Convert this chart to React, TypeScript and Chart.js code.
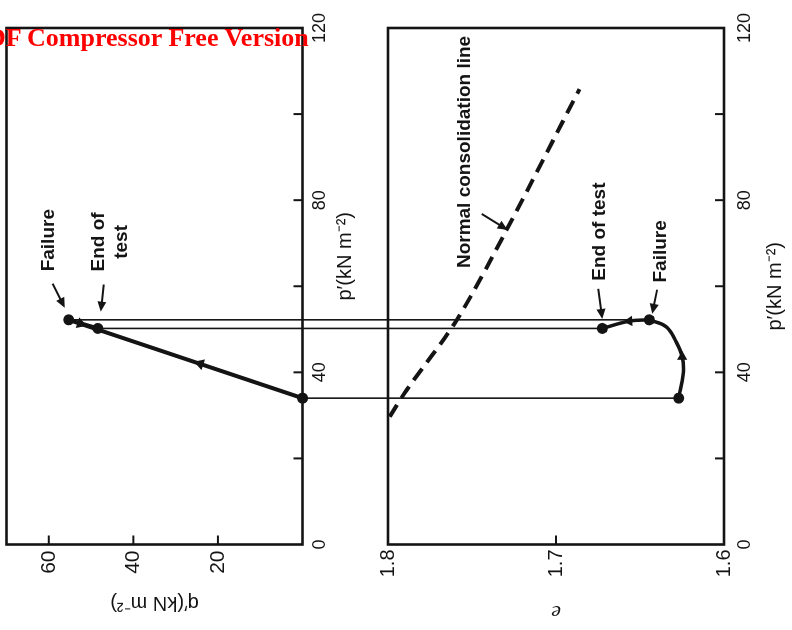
import React, { useEffect, useRef } from 'react';
import { Chart, registerables } from 'chart.js';

Chart.register(...registerables);

// ---------------- data ----------------
const stateNames = ['Start of shearing', 'Failure', 'End of test'];
const pPrime = [34, 52.2, 50.2]; // p' (kN m^-2)
const qPrime = [0, 55.3, 48.4]; // q' (kN m^-2)
const voidRatio = [1.627, 1.6445, 1.6724]; // e

// e - p' path from start of shearing to failure
const shearPathP = [34, 39.7, 43.6, 47.1, 50.6, 52.2];
const shearPathE = [1.627, 1.6243, 1.6249, 1.6285, 1.6344, 1.6445];
// e - p' path from failure to end of test
const postPeakP = [52.2, 51.9, 50.2];
const postPeakE = [1.6445, 1.6564, 1.6724];

// normal consolidation line
const nclP = [29.7, 36.0, 52.2, 73.1, 105.8];
const nclE = [1.799, 1.7887, 1.759, 1.7294, 1.686];

// axes
const pTicks = [0, 20, 40, 60, 80, 100, 120];
const pTickLabels = ['0', '', '40', '', '80', '', '120'];
const qTicks = [0, 20, 40, 60];
const qTickLabels = ['', '20', '40', '60'];
const eTicks = [1.6, 1.7, 1.8];
const eTickLabels = ['1.6', '1.7', '1.8'];

// direction arrows on the paths
const qArrowP = [42.0, 51.3];
const qArrowQ = [24.2, 52.5];
const qArrowAngle = [18.5, 198.5];
const eArrowP = [43.6, 51.9];
const eArrowE = [1.6249, 1.6564];
const eArrowAngle = [90, -4];

// annotations
const qNoteText = ['Failure', 'End of\ntest'];
const qNoteP = [70.7, 70.3];
const qNoteQ = [60.0, 45.35];
const qPointerFromP = [60.6, 60.4];
const qPointerFromQ = [59.1, 47.0];
const qPointerToP = [55.0, 54.1];
const qPointerToQ = [56.2, 47.7];

const eNoteText = ['End of test', 'Failure', 'Normal consolidation line'];
const eNoteP = [72.7, 68.1, 91.2];
const eNoteE = [1.6738, 1.6374, 1.7543];
const ePointerFromP = [59.4, 59.2, 76.8];
const ePointerFromE = [1.6748, 1.6398, 1.7442];
const ePointerToP = [52.4, 53.6, 73.1];
const ePointerToE = [1.6724, 1.6427, 1.7288];

// ---------------- styling ----------------
const INK = '#141414';
const SANS = '"Liberation Sans", Arial, sans-serif';
const SERIF = '"Liberation Serif", "Times New Roman", serif';

type Note = { text: string; x: number; y: number };
type Pointer = { x0: number; y0: number; x1: number; y1: number };

function makeOverlay(notes: Note[], pointers: Pointer[]) {
  return {
    id: 'overlay',
    beforeDatasetsDraw(chart: any) {
      const { ctx, chartArea: a, scales } = chart;
      ctx.save();
      ctx.strokeStyle = INK;
      ctx.lineWidth = 2.6;
      ctx.strokeRect(a.left, a.top, a.right - a.left, a.bottom - a.top);
      ctx.lineWidth = 2;
      const xs = scales.x;
      xs.ticks.forEach((t: any) => {
        if (t.value > xs.min && t.value < xs.max) {
          const px = xs.getPixelForValue(t.value);
          ctx.beginPath();
          ctx.moveTo(px, a.bottom);
          ctx.lineTo(px, a.bottom - 9);
          ctx.stroke();
        }
      });
      const ys = scales.y;
      ys.ticks.forEach((t: any) => {
        if (t.value > ys.min + 1e-9 && t.value < ys.max - 1e-9) {
          const py = ys.getPixelForValue(t.value);
          ctx.beginPath();
          ctx.moveTo(a.left, py);
          ctx.lineTo(a.left + 9, py);
          ctx.stroke();
        }
      });
      ctx.restore();
    },
    afterDatasetsDraw(chart: any) {
      const { ctx, scales } = chart;
      const xs = scales.x;
      const ys = scales.y;
      ctx.save();
      ctx.fillStyle = INK;
      ctx.strokeStyle = INK;
      ctx.font = `bold 19px ${SANS}`;
      ctx.textAlign = 'center';
      ctx.textBaseline = 'middle';
      notes.forEach((n) => {
        const lines = n.text.split('\n');
        const cx = xs.getPixelForValue(n.x);
        const cy = ys.getPixelForValue(n.y);
        const lh = 23;
        lines.forEach((ln, i) => {
          ctx.fillText(ln, cx, cy + (i - (lines.length - 1) / 2) * lh);
        });
      });
      ctx.lineWidth = 2;
      pointers.forEach((p) => {
        const x0 = xs.getPixelForValue(p.x0);
        const y0 = ys.getPixelForValue(p.y0);
        const x1 = xs.getPixelForValue(p.x1);
        const y1 = ys.getPixelForValue(p.y1);
        const ang = Math.atan2(y1 - y0, x1 - x0);
        const hl = 10;
        const hw = 4.5;
        ctx.beginPath();
        ctx.moveTo(x0, y0);
        ctx.lineTo(x1 - Math.cos(ang) * hl * 0.8, y1 - Math.sin(ang) * hl * 0.8);
        ctx.stroke();
        ctx.beginPath();
        ctx.moveTo(x1, y1);
        ctx.lineTo(
          x1 - Math.cos(ang) * hl - Math.sin(ang) * hw,
          y1 - Math.sin(ang) * hl + Math.cos(ang) * hw
        );
        ctx.lineTo(
          x1 - Math.cos(ang) * hl + Math.sin(ang) * hw,
          y1 - Math.sin(ang) * hl - Math.cos(ang) * hw
        );
        ctx.closePath();
        ctx.fill();
      });
      ctx.restore();
    },
  };
}

function pAxis(labelOffset: string, titlePadBottom: number, tickPad: number, height: number) {
  return {
    type: 'linear',
    position: 'bottom',
    min: 0,
    max: 120,
    grid: { display: false, drawTicks: false },
    border: { display: false },
    afterBuildTicks: (s: any) => {
      s.ticks = pTicks.map((v) => ({ value: v }));
    },
    afterFit: (s: any) => {
      s.height = height;
      s.paddingLeft = 0;
      s.paddingRight = 0;
    },
    ticks: {
      padding: tickPad,
      color: INK,
      font: { family: SANS, size: 18 },
      maxRotation: 0,
      autoSkip: false,
      callback: (_v: any, i: number) => pTickLabels[i],
    },
    title: {
      display: true,
      text: labelOffset + 'p\u2032(kN m\u207B\u00B2)',
      color: INK,
      font: { family: SANS, size: 20 },
      padding: { top: 0, bottom: titlePadBottom },
    },
  };
}

const P_LEFT = 85.5;
const P_RIGHT_PAD = 28;

export default function App() {
  const topRef = useRef<HTMLCanvasElement>(null);
  const botRef = useRef<HTMLCanvasElement>(null);

  useEffect(() => {
    const qNotes: Note[] = qNoteText.map((t, i) => ({ text: t, x: qNoteP[i], y: qNoteQ[i] }));
    const qPointers: Pointer[] = qPointerFromP.map((_, i) => ({
      x0: qPointerFromP[i], y0: qPointerFromQ[i], x1: qPointerToP[i], y1: qPointerToQ[i],
    }));
    const eNotes: Note[] = eNoteText.map((t, i) => ({ text: t, x: eNoteP[i], y: eNoteE[i] }));
    const ePointers: Pointer[] = ePointerFromP.map((_, i) => ({
      x0: ePointerFromP[i], y0: ePointerFromE[i], x1: ePointerToP[i], y1: ePointerToE[i],
    }));

    const lineBase = { showLine: true, pointRadius: 0, pointHitRadius: 0, borderColor: INK };

    const top = new Chart(topRef.current as HTMLCanvasElement, {
      type: 'scatter',
      data: {
        datasets: [
          ...pPrime.map((p, i) => ({
            ...lineBase,
            label: 'Projection: ' + stateNames[i],
            data: [{ x: p, y: qPrime[i] }, { x: p, y: -40 }],
            borderWidth: 1.6,
            clip: false,
          })),
          {
            ...lineBase,
            label: 'Stress path',
            data: pPrime.map((p, i) => ({ x: p, y: qPrime[i] })),
            borderWidth: 4,
            borderCapStyle: 'round',
            borderJoinStyle: 'round',
            clip: false,
          },
          {
            label: 'States',
            data: pPrime.map((p, i) => ({ x: p, y: qPrime[i] })),
            showLine: false,
            pointRadius: 5.5,
            backgroundColor: INK,
            borderWidth: 0,
            clip: false,
          },
          {
            label: 'Direction',
            data: qArrowP.map((p, i) => ({ x: p, y: qArrowQ[i] })),
            showLine: false,
            pointStyle: 'triangle',
            pointRadius: 6.5,
            pointRotation: (c: any) => qArrowAngle[c.dataIndex],
            backgroundColor: INK,
            borderWidth: 0,
          },
        ],
      } as any,
      options: {
        responsive: false,
        animation: false,
        events: [],
        layout: { padding: { left: 0, right: P_RIGHT_PAD, top: 5.5, bottom: 0 } },
        plugins: { legend: { display: false }, tooltip: { enabled: false } },
        scales: {
          x: pAxis('\u2003\u2003\u2003', 3, 7, 57.5) as any,
          y: {
            type: 'linear',
            min: 0,
            max: 70,
            grid: { display: false, drawTicks: false },
            border: { display: false },
            afterBuildTicks: (s: any) => {
              s.ticks = qTicks.map((v) => ({ value: v }));
            },
            afterFit: (s: any) => {
              s.width = P_LEFT;
              s.paddingTop = 0;
              s.paddingBottom = 0;
            },
            ticks: {
              padding: 6,
              color: INK,
              font: { family: SANS, size: 21 },
              callback: (_v: any, i: number) => qTickLabels[i],
            },
            title: {
              display: true,
              text: 'q\u2032(kN m\u207B\u00B2)',
              color: INK,
              font: { family: SANS, size: 20 },
              padding: { top: 15, bottom: 0 },
            },
          } as any,
        },
      },
      plugins: [makeOverlay(qNotes, qPointers)],
    });

    const bot = new Chart(botRef.current as HTMLCanvasElement, {
      type: 'scatter',
      data: {
        datasets: [
          {
            ...lineBase,
            label: 'Normal consolidation line',
            data: nclP.map((p, i) => ({ x: p, y: nclE[i] })),
            borderWidth: 4,
            borderDash: [14, 8],
            tension: 0.3,
          },
          ...pPrime.map((p, i) => ({
            ...lineBase,
            label: 'Projection: ' + stateNames[i],
            data: [{ x: p, y: 2.0 }, { x: p, y: voidRatio[i] }],
            borderWidth: 1.6,
            clip: false,
          })),
          {
            ...lineBase,
            label: 'e path to failure',
            data: shearPathP.map((p, i) => ({ x: p, y: shearPathE[i] })),
            borderWidth: 3.5,
            tension: 0.4,
            borderCapStyle: 'round',
          },
          {
            ...lineBase,
            label: 'e path after failure',
            data: postPeakP.map((p, i) => ({ x: p, y: postPeakE[i] })),
            borderWidth: 3.5,
            tension: 0.4,
            borderCapStyle: 'round',
          },
          {
            label: 'States',
            data: pPrime.map((p, i) => ({ x: p, y: voidRatio[i] })),
            showLine: false,
            pointRadius: 5.5,
            backgroundColor: INK,
            borderWidth: 0,
            clip: false,
          },
          {
            label: 'Direction',
            data: eArrowP.map((p, i) => ({ x: p, y: eArrowE[i] })),
            showLine: false,
            pointStyle: 'triangle',
            pointRadius: 6,
            pointRotation: (c: any) => eArrowAngle[c.dataIndex],
            backgroundColor: INK,
            borderWidth: 0,
          },
        ],
      } as any,
      options: {
        responsive: false,
        animation: false,
        events: [],
        layout: { padding: { left: 0, right: P_RIGHT_PAD, top: 28, bottom: 0 } },
        plugins: { legend: { display: false }, tooltip: { enabled: false } },
        scales: {
          x: pAxis('', 5, 10, 68) as any,
          y: {
            type: 'linear',
            min: 1.6,
            max: 1.8,
            grid: { display: false, drawTicks: false },
            border: { display: false },
            afterBuildTicks: (s: any) => {
              s.ticks = eTicks.map((v) => ({ value: v }));
            },
            afterFit: (s: any) => {
              s.width = P_LEFT;
              s.paddingTop = 0;
              s.paddingBottom = 0;
            },
            ticks: {
              padding: 5,
              color: INK,
              font: { family: SANS, size: 20 },
              callback: (_v: any, i: number) => eTickLabels[i],
            },
            title: {
              display: true,
              text: 'e',
              color: INK,
              font: { family: SERIF, size: 22, style: 'italic' },
              padding: { top: 5, bottom: 0 },
            },
          } as any,
        },
      },
      plugins: [makeOverlay(eNotes, ePointers)],
    });

    return () => {
      top.destroy();
      bot.destroy();
    };
  }, []);

  return (
    <>
      <div
        style={{
          position: 'fixed',
          left: 0,
          top: 0,
          width: 630,
          height: 792,
          background: '#fff',
          transformOrigin: '0 0',
          transform: 'translateY(630px) rotate(-90deg)',
        }}
      >
        <canvas
          ref={topRef}
          width={630}
          height={360}
          style={{ position: 'absolute', left: 0, top: 0, display: 'block' }}
        />
        <canvas
          ref={botRef}
          width={630}
          height={432}
          style={{ position: 'absolute', left: 0, top: 360, display: 'block' }}
        />
      </div>
      <div
        style={{
          position: 'fixed',
          left: -29,
          top: 25,
          font: `bold 26px ${SERIF}`,
          lineHeight: '26px',
          color: '#f00',
          whiteSpace: 'nowrap',
          zIndex: 10,
        }}
      >
        PDF Compressor Free Version
      </div>
    </>
  );
}
